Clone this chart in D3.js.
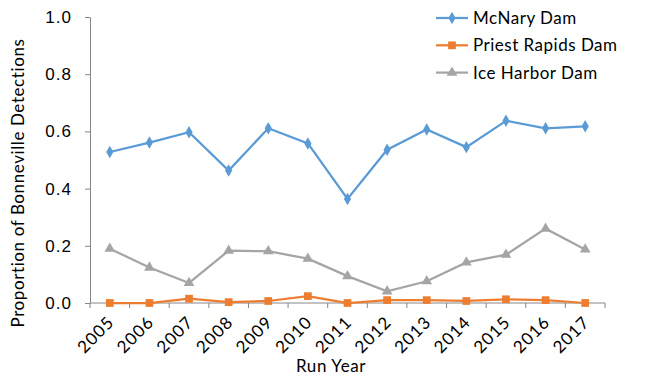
<!DOCTYPE html>
<html>
<head>
<meta charset="utf-8">
<script src="https://cdn.jsdelivr.net/npm/d3@7"></script>
<style>
  body { margin: 0; background: #fff; }
  svg { font-family: Lato, "Open Sans", sans-serif; }
</style>
</head>
<body>
<div id="chart"></div>
<script>
var years = ["2005", "2006", "2007", "2008", "2009", "2010", "2011", "2012", "2013", "2014", "2015", "2016", "2017"];
var mcnary = [0.528, 0.561, 0.597, 0.463, 0.611, 0.558, 0.364, 0.536, 0.607, 0.545, 0.637, 0.611, 0.618];
var priestRapids = [0.0, 0.0, 0.015, 0.003, 0.007, 0.024, 0.0, 0.01, 0.01, 0.007, 0.013, 0.01, 0.0];
var iceHarbor = [0.19, 0.124, 0.07, 0.183, 0.181, 0.155, 0.094, 0.041, 0.076, 0.142, 0.169, 0.26, 0.187];
var yTicks = [0, 0.2, 0.4, 0.6, 0.8, 1.0];

var series = [
  {name: "McNary Dam", values: mcnary, color: "#5B9BD5", symbol: d3.symbolDiamond, size: 45},
  {name: "Priest Rapids Dam", values: priestRapids, color: "#ED7D31", symbol: d3.symbolSquare, size: 60},
  {name: "Ice Harbor Dam", values: iceHarbor, color: "#A5A5A5", symbol: d3.symbolTriangle, size: 50}
];

var width = 658, height = 381;
var margin = {top: 17, right: 53, bottom: 78, left: 90};

var svg = d3.select("#chart").append("svg")
    .attr("width", width)
    .attr("height", height);

var x = d3.scaleBand()
    .domain(years)
    .range([margin.left, width - margin.right]);

var y = d3.scaleLinear()
    .domain([0, 1])
    .range([height - margin.bottom, margin.top]);

var axisColor = "#868686";

// y axis
var yAxis = svg.append("g")
    .attr("transform", "translate(" + margin.left + ",0)")
    .call(d3.axisLeft(y).tickValues(yTicks).tickFormat(d3.format(".1f")).tickSize(5).tickSizeOuter(0));
yAxis.select(".domain").attr("stroke", axisColor);
yAxis.selectAll(".tick line").attr("stroke", axisColor);
yAxis.selectAll(".tick text")
    .attr("x", -18)
    .attr("fill", "#000")
    .style("font-size", "17px")
    .style("letter-spacing", "1px");

// x axis, ticks on category boundaries
var xAxis = svg.append("g")
    .attr("transform", "translate(0," + y(0) + ")");
xAxis.append("line")
    .attr("x1", x.range()[0]).attr("x2", x.range()[1])
    .attr("stroke", axisColor);
var bounds = years.map(function(d) { return x(d); }).concat([x.range()[1]]);
xAxis.selectAll(".xtick").data(bounds).enter().append("line")
    .attr("class", "xtick")
    .attr("x1", function(d) { return d; })
    .attr("x2", function(d) { return d; })
    .attr("y1", 0).attr("y2", 5)
    .attr("stroke", axisColor);
xAxis.selectAll(".xlabel").data(years).enter().append("text")
    .attr("class", "xlabel")
    .attr("transform", function(d) { return "translate(" + (x(d) + x.bandwidth() / 2 - 3) + ",12) rotate(-45)"; })
    .attr("text-anchor", "end")
    .attr("dy", "0.7em")
    .style("font-size", "17px")
    .style("letter-spacing", "1px")
    .text(function(d) { return d; });

// axis titles
svg.append("text")
    .attr("x", 331)
    .attr("y", 372)
    .attr("text-anchor", "middle")
    .style("font-size", "17px")
    .style("letter-spacing", "0.6px")
    .text("Run Year");

svg.append("text")
    .attr("transform", "translate(24,183) rotate(-90)")
    .attr("text-anchor", "middle")
    .style("font-size", "17px")
    .style("letter-spacing", "0.6px")
    .text("Proportion  of Bonneville Detections");

// lines
var line = d3.line()
    .x(function(d, i) { return x(years[i]) + x.bandwidth() / 2; })
    .y(function(d) { return y(d); });

var groups = svg.selectAll(".series").data(series).enter().append("g").attr("class", "series");

groups.append("path")
    .attr("d", function(s) { return line(s.values); })
    .attr("fill", "none")
    .attr("stroke", function(s) { return s.color; })
    .attr("stroke-width", 2.25);

groups.each(function(s) {
  d3.select(this).selectAll("path.marker").data(s.values).enter().append("path")
      .attr("class", "marker")
      .attr("transform", function(d, i) { return "translate(" + (x(years[i]) + x.bandwidth() / 2) + "," + y(d) + ")"; })
      .attr("d", d3.symbol().type(s.symbol).size(s.size))
      .attr("fill", s.color);
});

// legend
var legend = svg.append("g").attr("transform", "translate(436,18)");
var item = legend.selectAll(".legend-item").data(series).enter().append("g")
    .attr("class", "legend-item")
    .attr("transform", function(d, i) { return "translate(0," + i * 27.3 + ")"; });
item.append("line")
    .attr("x1", 0).attr("x2", 32)
    .attr("stroke", function(d) { return d.color; })
    .attr("stroke-width", 2.25);
item.append("path")
    .attr("transform", "translate(16,0)")
    .attr("d", function(d) { return d3.symbol().type(d.symbol).size(d.size)(); })
    .attr("fill", function(d) { return d.color; });
item.append("text")
    .attr("x", 37)
    .attr("dy", "0.35em")
    .style("font-size", "17px")
    .style("letter-spacing", "0.5px")
    .text(function(d) { return d.name; });
</script>
</body>
</html>
